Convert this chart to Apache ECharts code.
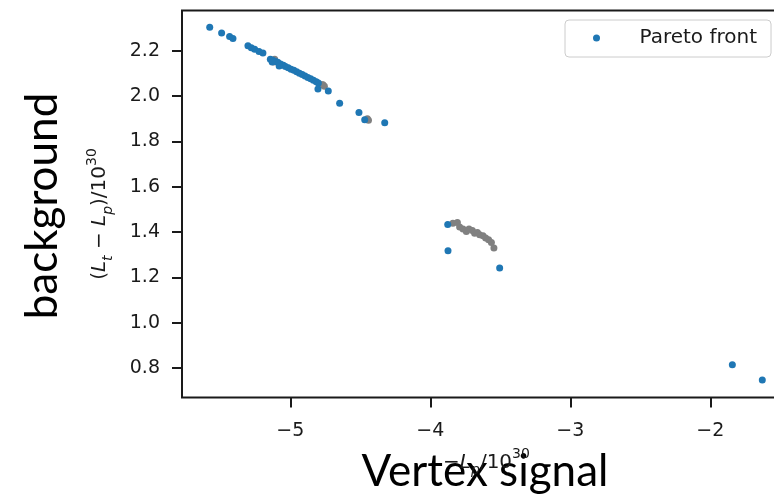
<!DOCTYPE html>
<html><head><meta charset="utf-8">
<script src="https://cdn.jsdelivr.net/npm/echarts@6/dist/echarts.min.js"></script>
<style>html,body{margin:0;padding:0;background:#fff}#c{width:774px;height:494px}</style>
</head><body><div id="c"></div>
<script>
// Pareto front (blue)
const paretoX = [-5.576,-5.491,-5.434,-5.41,-5.303,-5.279,-5.255,-5.224,-5.196,-5.143,-5.125,-5.105,-5.09,-5.07,-5.05,-5.035,-5.015,-4.995,-4.975,-4.955,-4.935,-4.915,-4.895,-4.875,-4.855,-4.835,-4.815,-4.80,-4.803,-4.729,-4.648,-4.51,-4.469,-4.326,-3.876,-3.874,-3.505,-1.843,-1.629,-5.13,-5.08];
const paretoY = [2.303,2.278,2.262,2.253,2.221,2.213,2.206,2.196,2.189,2.162,2.158,2.152,2.149,2.141,2.136,2.130,2.125,2.118,2.113,2.107,2.100,2.095,2.088,2.082,2.076,2.069,2.063,2.057,2.031,2.022,1.968,1.927,1.895,1.882,1.433,1.317,1.241,0.815,0.747,2.150,2.132];
// other solutions (grey)
const otherX = [-5.112,-5.12,-4.775,-4.767,-4.757,-4.45,-4.442,-3.839,-3.807,-3.791,-3.767,-3.743,-3.724,-3.7,-3.684,-3.664,-3.648,-3.624,-3.605,-3.584,-3.564,-3.546];
const otherY = [2.162,2.150,2.050,2.049,2.043,1.899,1.893,1.439,1.442,1.422,1.413,1.402,1.413,1.407,1.395,1.398,1.388,1.383,1.373,1.366,1.354,1.329];
const xTicks = [-5,-4,-3,-2];
const yTicks = [0.8,1.0,1.2,1.4,1.6,1.8,2.0,2.2];
const xRange = [-5.774,-1.424];
const yRange = [0.670,2.377];
const legendLabel = 'Pareto front';

const zip = (a,b) => a.map((v,i)=>[v,b[i]]);
const ink = '#1a1a1a';
const tickFont = {fontFamily:'DejaVu Sans', fontSize:19, color:ink};
const mathRich = {
  n:{fontFamily:'DejaVu Sans', fontSize:20, lineHeight:30, verticalAlign:'middle', color:ink},
  i:{fontFamily:'DejaVu Sans', fontStyle:'italic', fontSize:20, lineHeight:30, verticalAlign:'middle', color:ink},
  sub:{fontFamily:'DejaVu Sans', fontStyle:'italic', fontSize:14, lineHeight:14, verticalAlign:'bottom', color:ink},
  sup:{fontFamily:'DejaVu Sans', fontSize:14, lineHeight:14, verticalAlign:'top', color:ink}
};
const chart = echarts.init(document.getElementById('c'), null, {renderer:'canvas'});
chart.setOption({
  animation:false,
  grid:{left:182, top:10.5, width:609, height:387, show:true, borderColor:ink, borderWidth:2,
        backgroundColor:'transparent', containLabel:false, outerBoundsMode:'none'},
  xAxis:{type:'value', min:xRange[0], max:xRange[1],
    axisLine:{show:false}, splitLine:{show:false},
    axisTick:{show:true, length:10, lineStyle:{color:ink, width:2}, customValues:xTicks},
    axisLabel:{customValues:xTicks, margin:24, formatter:v=>String(v).replace('-','\u2212'), ...tickFont},
    name:'{n|\u2212}{i|L}{sub|p}{n|/10}{sup|30}', nameLocation:'middle', nameGap:50, nameMoveOverlap:false,
    nameTextStyle:{rich:mathRich}
  },
  yAxis:{type:'value', min:yRange[0], max:yRange[1],
    axisLine:{show:false}, splitLine:{show:false},
    axisTick:{show:true, length:10, lineStyle:{color:ink, width:2}, customValues:yTicks},
    axisLabel:{customValues:yTicks, margin:22, formatter:v=>v.toFixed(1), ...tickFont},
    name:'{n|(}{i|L}{sub|t}{n| \u2212 }{i|L}{sub|p}{n|)/10}{sup|30}', nameLocation:'middle', nameRotate:90, nameGap:67, nameMoveOverlap:false,
    nameTextStyle:{rich:mathRich, padding:[0,20,0,0]}
  },
  legend:{data:[legendLabel], left:565, top:20, icon:'circle', itemWidth:36, itemHeight:7,
    padding:[8,14,9,28], borderColor:'#cccccc', borderWidth:1, borderRadius:4, backgroundColor:'rgba(255,255,255,0.8)',
    textStyle:{fontFamily:'DejaVu Sans', fontSize:20, color:ink, padding:[0,0,0,20]}},
  series:[
    {name:'Other solutions', type:'scatter', data:zip(otherX,otherY), symbolSize:7, itemStyle:{color:'#808080', opacity:1}, z:2},
    {name:legendLabel, type:'scatter', data:zip(paretoX,paretoY), symbolSize:7, itemStyle:{color:'#1f77b4', opacity:1}, z:3}
  ],
  graphic:[
    {type:'text', x:43, y:206, rotation:Math.PI/2, style:{text:'background', font:'44px Lato', fill:'#000', align:'center', verticalAlign:'middle'}},
    {type:'text', x:485, y:472, style:{text:'Vertex signal', font:'44px Lato', fill:'#000', align:'center', verticalAlign:'middle'}}
  ]
});
</script></body></html>
